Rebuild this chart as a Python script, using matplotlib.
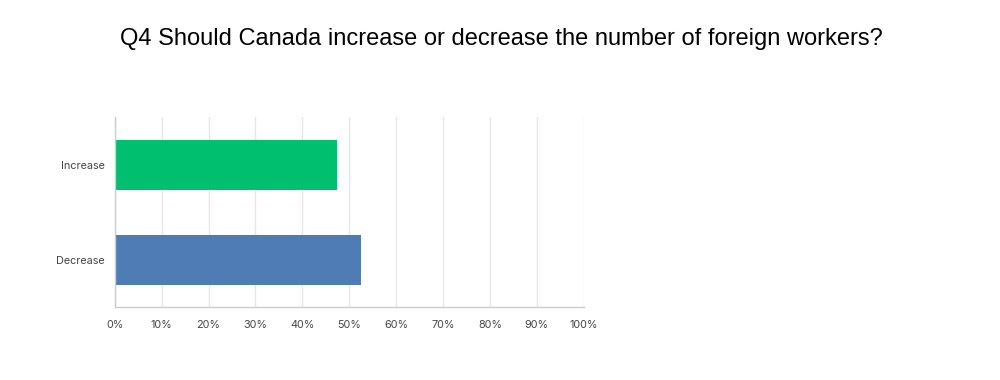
import matplotlib.pyplot as plt

categories = ["Increase", "Decrease"]
shares = [47.4, 52.6]
colors = ["#00BF6F", "#507CB6"]
xticks = list(range(0, 101, 10))
xtick_labels = [f"{t}%" for t in xticks]

fig = plt.figure(figsize=(10, 3.8), dpi=100)
fig.text(0.501, 0.897, "Q4 Should Canada increase or decrease the number of foreign workers?",
         ha="center", va="center", fontsize=17, family="Liberation Sans", color="#000000")

ax = fig.add_axes([0.1147, 0.192, 0.469, 0.5])
ypos = list(range(len(categories)))
ax.barh(ypos, shares, height=0.526, color=colors, zorder=2)
ax.set_ylim(1.5, -0.5)
ax.set_xlim(0, 100)
ax.set_yticks(ypos)
ax.set_yticklabels(categories)
ax.set_xticks(xticks)
ax.set_xticklabels(xtick_labels)
ax.tick_params(axis="both", length=0, labelsize=7.8, colors="#444444")
ax.tick_params(axis="x", pad=9)
ax.tick_params(axis="y", pad=7)
for lab in ax.get_xticklabels() + ax.get_yticklabels():
    lab.set_family("Inter")
ax.grid(axis="x", color="#e6e6e6", linewidth=1, zorder=0)
for s in ("top", "right"):
    ax.spines[s].set_visible(False)
for s in ("left", "bottom"):
    ax.spines[s].set_color("#cccccc")
    ax.spines[s].set_linewidth(1)

fig.savefig("out.png", dpi=100)
